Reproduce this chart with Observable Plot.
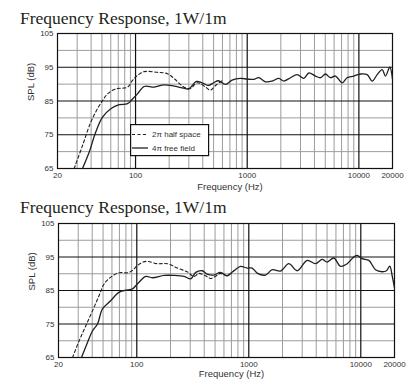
<!DOCTYPE html>
<html>
<head>
<meta charset="utf-8">
<script src="https://cdn.jsdelivr.net/npm/d3@7"></script>
<script src="https://cdn.jsdelivr.net/npm/@observablehq/plot@0.6"></script>
<style>
  html, body { margin: 0; padding: 0; background: #fff; }
  #wrap { position: relative; width: 413px; height: 391px; overflow: hidden; }
  .title { position: absolute; left: 20px; font-family: "Liberation Serif", "Times New Roman", serif;
           font-size: 17.5px; line-height: 17.5px; color: #231f20; white-space: nowrap; }
  .plot { position: absolute; left: 0; }
  #legend { position: absolute; left: 130px; top: 124px; z-index: 5; }
</style>
</head>
<body>
<div id="wrap">
  <div class="title" id="t1" style="top:9.5px">Frequency Response, 1W/1m</div>
  <div class="plot" id="p1" style="top:28px"></div>
  <div class="title" id="t2" style="top:198.5px">Frequency Response, 1W/1m</div>
  <div class="plot" id="p2" style="top:218px"></div>
  <div id="legend"></div>
</div>
<script>
// ---- tick / grid values ----
const xTickLabels = [20, 100, 1000, 10000, 20000];
const yTickLabels = [65, 75, 85, 95, 105];
const minorFreqs = [30, 40, 50, 60, 70, 80, 90, 200, 300, 400, 500, 600, 700, 800, 900,
                    2000, 3000, 4000, 5000, 6000, 7000, 8000, 9000];
const majorFreqs = [100, 1000, 10000];
const minorDb = [70, 80, 90, 100];
const majorDb = [75, 85, 95];
const legendLabels = ["2\u03c0 half space", "4\u03c0 free field"];

// ---- chart 1 ----
const c1HalfFreq = [28.2, 33.5, 39.7, 45.6, 50.6, 56.1, 66.5, 84.7, 93.9, 104, 119.5, 157, 193, 222, 272, 310, 357, 420, 468, 520, 596];
const c1HalfSpl  = [65, 71.8, 78.7, 82.7, 85.1, 87.1, 88.6, 89.1, 91.1, 92.6, 93.7, 93.5, 93.1, 91.6, 89.1, 88.7, 90.4, 89.2, 88.2, 89.6, 91.0];
const c1FreeFreq = [33.5, 38.4, 44.0, 50.6, 60, 71.3, 84.7, 93.9, 104, 119.5, 147, 180, 222, 262, 300, 350, 400, 450, 500, 550, 640, 732, 870, 998,
                    1145, 1269, 1457, 1671, 1919, 2126, 2440, 2798, 3211, 3559, 4083, 4527, 5017, 5563, 6167, 7076, 7845, 9004,
                    10335, 11862, 13151, 14575, 16150, 17300, 18900, 20000];
const c1FreeSpl  = [65, 69.8, 75.8, 80.2, 82.7, 83.9, 84.2, 85.6, 87.1, 89.3, 89.1, 89.8, 89.4, 88.9, 88.6, 90.8, 90.3, 89.6, 90.4, 91.0, 89.9, 91.2, 91.7, 91.5,
                    91.4, 91.9, 90.7, 90.9, 91.7, 90.9, 91.9, 92.8, 91.7, 93.3, 92.4, 91.9, 93.0, 91.9, 92.4, 90.4, 91.9, 92.4,
                    93.0, 92.8, 90.9, 92.8, 94.3, 92.4, 95.0, 91.5];

// ---- chart 2 ----
const c2HalfFreq = [26.7, 30.6, 35.1, 40.3, 46.1, 51.2, 58.7, 69.7, 82.6, 91.6, 101.5, 120.5, 153, 188, 231, 284, 325, 360, 415, 455, 510, 559, 640, 736];
const c2HalfSpl  = [65, 70, 74.5, 79, 83.5, 87, 89, 90.3, 90.3, 91, 92.5, 93.7, 93, 93, 91.7, 90.5, 89.2, 90.1, 89.3, 88.6, 89.3, 90.1, 89.4, 90.9];
const c2FreeFreq = [32.1, 36.3, 40.3, 44.6, 49.4, 58.7, 69.7, 82.6, 91.6, 101.5, 120.5, 138, 176, 216, 265, 304, 336, 384, 425, 487, 559, 641, 736, 843, 967,
                    1072, 1188, 1410, 1618, 1919, 2278, 2706, 3323, 3941, 4520, 5011, 5742, 6593, 7559, 8670, 9283,
                    10290, 11805, 13530, 15525, 16950, 18160, 19060, 20000];
const c2FreeSpl  = [65, 69.5, 73, 75, 79.5, 82, 84.5, 85.2, 85.5, 87, 89.2, 88.8, 89.5, 89.5, 89.2, 88.5, 90.4, 90.9, 89.9, 89.6, 90.4, 89.4, 90.9, 92.2, 91.7,
                    91.7, 90.2, 89.6, 91.2, 90.8, 93.0, 90.9, 94.0, 93.0, 94.3, 93.5, 94.7, 92.2, 93.0, 95.0, 95.5,
                    94.5, 94.0, 91.2, 90.6, 90.9, 92.3, 89.4, 85.8];

const INK = "#231f20";
const GRID = "#9c9c9c";

function zip(fs, ss) { return fs.map((f, i) => ({f, s: ss[i]})); }

function drawChart(el, opt) {
  const half = zip(opt.halfFreq, opt.halfSpl);
  const free = zip(opt.freeFreq, opt.freeSpl);
  const chart = Plot.plot({
    width: 413,
    height: opt.height,
    marginLeft: opt.ml, marginRight: opt.mr, marginTop: opt.mt, marginBottom: opt.mb,
    style: {fontFamily: "'Liberation Sans', Arial, sans-serif", fontSize: "8px", color: "#333", background: "transparent"},
    x: {type: "log", domain: [20, 20000], label: null},
    y: {domain: [65, 105], label: null},
    marks: [
      Plot.ruleX(minorFreqs, {stroke: GRID, strokeWidth: 1}),
      Plot.ruleY(minorDb, {stroke: GRID, strokeWidth: 1}),
      Plot.ruleX(majorFreqs, {stroke: "#111", strokeWidth: 1.2}),
      Plot.ruleY(majorDb, {stroke: "#111", strokeWidth: 1.2}),
      Plot.frame({stroke: "#111", strokeWidth: 1.2}),
      Plot.axisX({ticks: xTickLabels, tickSize: 0, tickPadding: 4, tickFormat: d3.format("d"), label: null}),
      Plot.axisY({ticks: yTickLabels, tickSize: 0, tickPadding: 4, label: null}),
      Plot.text(["Frequency (Hz)"], {frameAnchor: "bottom", dx: 5, dy: opt.xlabDy, fontSize: 9.5, fill: "#333", text: d => d}),
      Plot.text(["SPL (dB)"], {frameAnchor: "left", dx: -27, rotate: -90, fontSize: 9.5, fill: "#333", text: d => d}),
      Plot.line(half, {x: "f", y: "s", stroke: INK, strokeWidth: 1.1, strokeDasharray: "3,2.5", curve: "catmull-rom"}),
      Plot.line(free, {x: "f", y: "s", stroke: INK, strokeWidth: 1.3, curve: "catmull-rom"})
    ]
  });
  el.appendChild(chart);
}

drawChart(document.getElementById("p1"), {
  height: 167, ml: 57, mr: 21, mt: 5, mb: 27, xlabDy: 21,
  halfFreq: c1HalfFreq, halfSpl: c1HalfSpl, freeFreq: c1FreeFreq, freeSpl: c1FreeSpl
});
drawChart(document.getElementById("p2"), {
  height: 169, ml: 58, mr: 19, mt: 5, mb: 30, xlabDy: 19.5,
  halfFreq: c2HalfFreq, halfSpl: c2HalfSpl, freeFreq: c2FreeFreq, freeSpl: c2FreeSpl
});

// legend (chart 1)
const ns = "http://www.w3.org/2000/svg";
const lg = document.createElementNS(ns, "svg");
lg.setAttribute("width", 80); lg.setAttribute("height", 33);
lg.innerHTML =
  '<rect x="0.6" y="0.6" width="78" height="31" fill="#fff" stroke="#111" stroke-width="1.2"/>' +
  '<line x1="2" x2="18" y1="10.5" y2="10.5" stroke="' + INK + '" stroke-width="1.1" stroke-dasharray="3,2.5"/>' +
  '<line x1="2" x2="18" y1="24" y2="24" stroke="' + INK + '" stroke-width="1.3"/>' +
  '<text x="22" y="13.3" font-family="Liberation Sans, Arial, sans-serif" font-size="8" fill="#333">' + legendLabels[0] + '</text>' +
  '<text x="22" y="26.8" font-family="Liberation Sans, Arial, sans-serif" font-size="8" fill="#333">' + legendLabels[1] + '</text>';
document.getElementById("legend").appendChild(lg);
</script>
</body>
</html>
